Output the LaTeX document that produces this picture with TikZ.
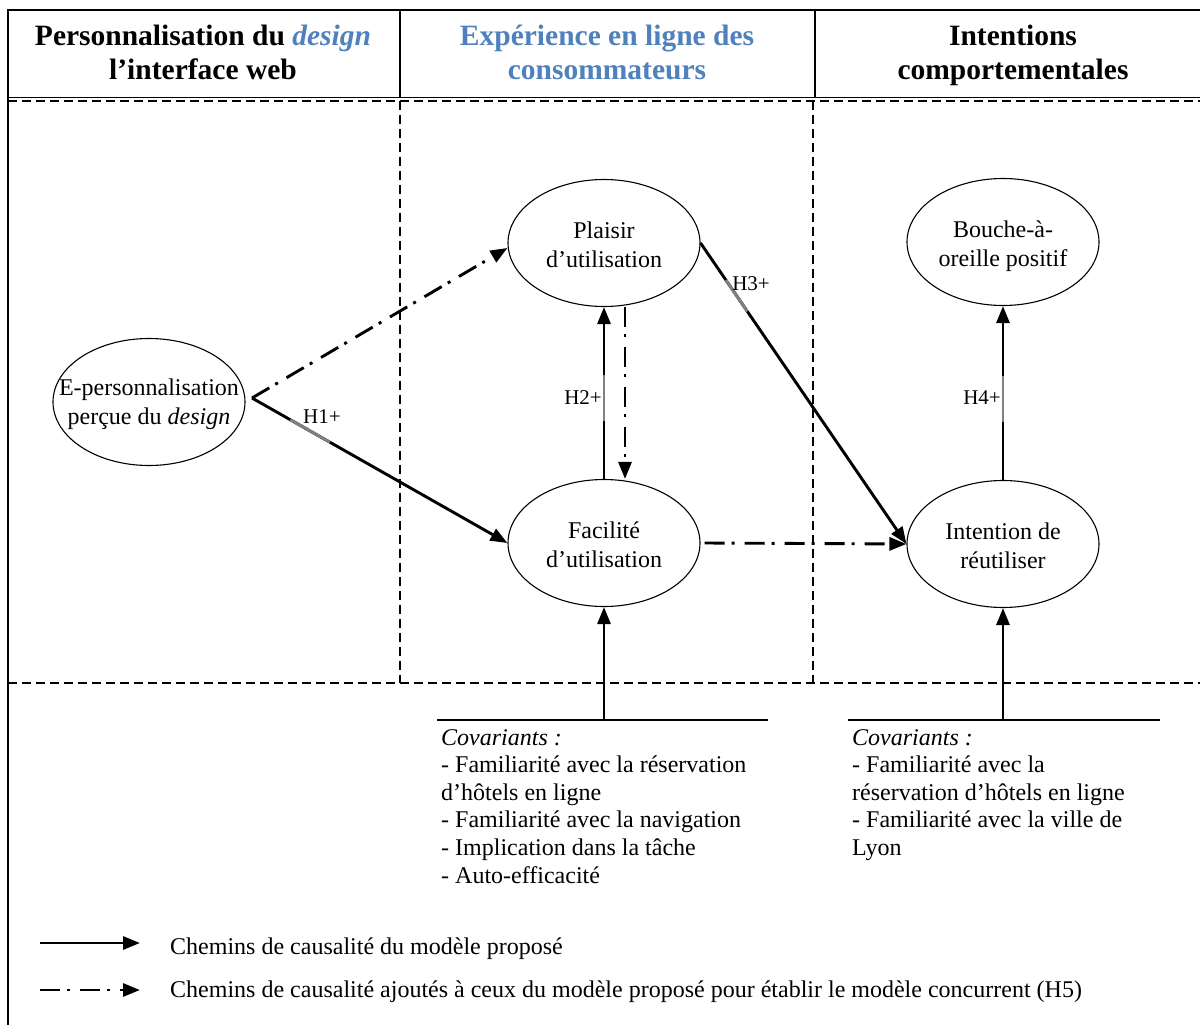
\documentclass[tikz,border=0pt]{standalone}
\usepackage{fontspec}
\setmainfont{Liberation Serif}
\usetikzlibrary{arrows.meta,shapes.geometric,calc}
\definecolor{hblue}{HTML}{4F81BD}
\begin{document}
\begin{tikzpicture}[x=1pt,y=-1pt,
  ell/.style={ellipse,draw,line width=1.1pt,minimum width=192pt,minimum height=127pt,inner sep=0pt},
  etxt/.style={align=center,font=\fontsize{24}{28.5}\selectfont,inner sep=0pt},
  body/.style={anchor=base west,inner sep=0pt,font=\fontsize{24}{27.6}\selectfont},
  head/.style={anchor=base,inner sep=0pt,font=\fontsize{29.5}{34}\selectfont\bfseries},
  hlab/.style={inner sep=0pt,font=\fontsize{21}{24}\selectfont},
  tip/.style={-{Triangle[length=17pt,width=13pt]}},
  solidarrow/.style={tip,line width=2.9pt},
  dasharrow/.style={tip,line width=2.9pt,dash pattern=on 20pt off 7pt on 3pt off 10pt},
  frame/.style={line width=2pt},
  dashframe/.style={line width=2pt,dash pattern=on 9pt off 5pt},
  grayseg/.style={line width=2.9pt,draw=gray}
]
\useasboundingbox (0,0) rectangle (1200,1025);
\fill[white] (0,0) rectangle (1200,1025);

% frame and header
\draw[frame] (8,1025) -- (8,10) -- (1200,10);
\draw[line width=1.5pt] (8,97.5) -- (1200,97.5);
\draw[frame] (400,10) -- (400,97.5);
\draw[frame] (815,10) -- (815,97.5);
\draw[dashframe] (8,100.5) -- (1200,100.5);
\draw[dashframe] (400,100.5) -- (400,683);
\draw[dashframe] (813,100.5) -- (813,683);
\draw[dashframe] (8,683) -- (1200,683);

\node[head] (h1a) at (203,46) {Personnalisation du \textcolor{hblue}{\textit{design}}};
\node[head] (h1b) at (203,80) {l’interface web};
\node[head,text=hblue] (h2a) at (607,46) {Expérience en ligne des};
\node[head,text=hblue] (h2b) at (607,80) {consommateurs};
\node[head] (h3a) at (1013,46) {Intentions};
\node[head] (h3b) at (1013,80) {comportementales};

% ellipses
\node[ell] (E) at (149,402) {};
\node[etxt] (Et) at (149,404) {E-personnalisation\\perçue du \textit{design}};
\node[ell] (P) at (604,243) {};
\node[etxt] (Pt) at (604,245) {Plaisir\\d’utilisation};
\node[ell] (F) at (604,543) {};
\node[etxt] (Ft) at (604,545) {Facilité\\d’utilisation};
\node[ell] (B) at (1003,242) {};
\node[etxt] (Bt) at (1003,246) {Bouche-à-\\oreille positif};
\node[ell] (I) at (1003,544) {};
\node[etxt] (It) at (1003,546) {Intention de\\réutiliser};

\coordinate (Eout) at (252,398);
\coordinate (cv1) at (604,720);
\coordinate (cv2) at (1003,720);

% arrows
\draw[solidarrow] (Eout) -- (F.west);
\draw[grayseg] ($(Eout)!0.15!(F.west)$) -- ($(Eout)!0.305!(F.west)$);
\node[hlab] (l1) at (322,417) {H1+};

\draw[dasharrow] (Eout) -- ([yshift=-5pt]P.west);

\draw[solidarrow] (F.north) -- (P.south);
\draw[grayseg] ($(F.north)!0.335!(P.south)$) -- ($(F.north)!0.607!(P.south)$);
\node[hlab] (l2) at (583,398) {H2+};

\draw[dasharrow] ([xshift=21pt]P.south) -- ([xshift=21pt]F.north);

\draw[solidarrow] (P.east) -- (I.west);
\draw[grayseg] ($(P.east)!0.123!(I.west)$) -- ($(P.east)!0.227!(I.west)$);
\node[hlab] (l3) at (751,284) {H3+};

\draw[dasharrow] ([xshift=4pt]F.east) -- (I.west);

\draw[solidarrow] (I.north) -- (B.south);
\draw[grayseg] ($(I.north)!0.335!(B.south)$) -- ($(I.north)!0.6!(B.south)$);
\node[hlab] (l4) at (982,398) {H4+};

\draw[solidarrow] (cv1) -- (F.south);
\draw[solidarrow] (cv2) -- (I.south);

% covariates
\draw[line width=1.5pt] (437,720) -- (768,720);
\draw[line width=1.5pt] (848,720) -- (1160,720);

\node[body] (ca1) at (441,745) {\textit{Covariants :}};
\node[body] (ca2) at (441,772.6) {- Familiarité avec la réservation};
\node[body] (ca3) at (441,800.2) {d’hôtels en ligne};
\node[body] (ca4) at (441,827.8) {- Familiarité avec la navigation};
\node[body] (ca5) at (441,855.4) {- Implication dans la tâche};
\node[body] (ca6) at (441,883) {- Auto-efficacité};

\node[body] (cb1) at (852,745) {\textit{Covariants :}};
\node[body] (cb2) at (852,772.6) {- Familiarité avec la};
\node[body] (cb3) at (852,800.2) {réservation d’hôtels en ligne};
\node[body] (cb4) at (852,827.8) {- Familiarité avec la ville de};
\node[body] (cb5) at (852,855.4) {Lyon};

% legend
\coordinate (la1) at (40,943);
\coordinate (la2) at (140,943);
\coordinate (lb1) at (40,990);
\coordinate (lb2) at (140,990);
\draw[solidarrow] (la1) -- (la2);
\draw[dasharrow] (lb1) -- (lb2);
\node[body] (lt1) at (170,954) {Chemins de causalité du modèle proposé};
\node[body] (lt2) at (170,997) {Chemins de causalité ajoutés à ceux du modèle proposé pour établir le modèle concurrent (H5)};
\end{tikzpicture}
\end{document}
